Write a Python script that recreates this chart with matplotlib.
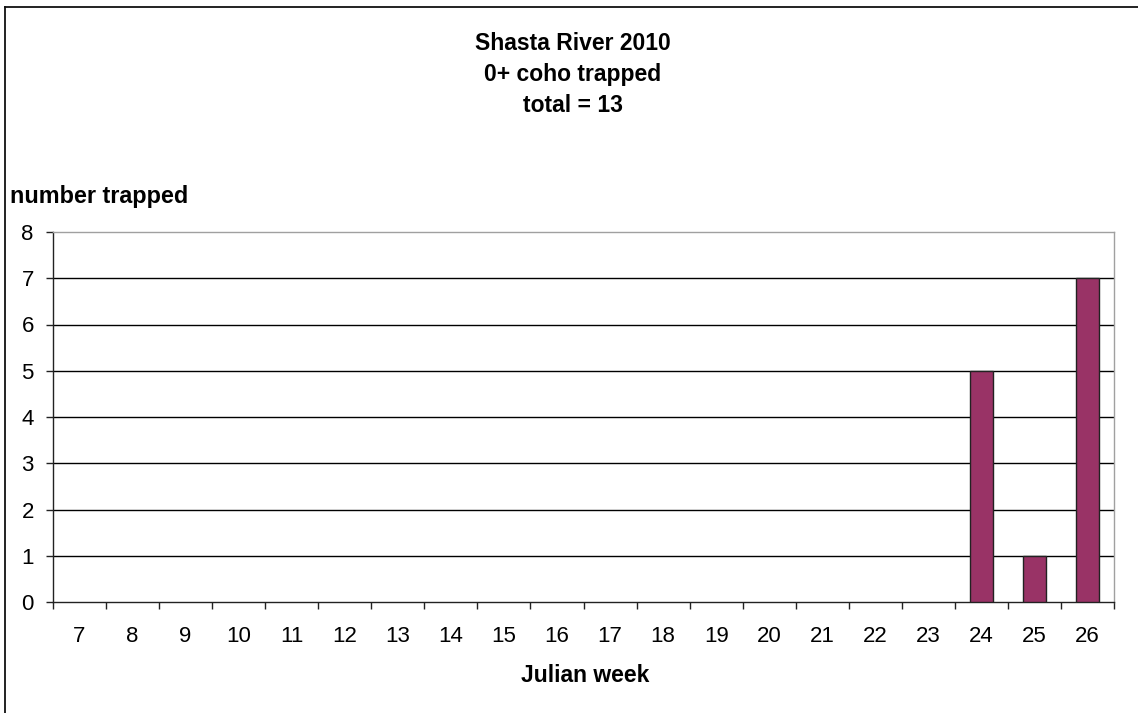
import matplotlib
matplotlib.use("Agg")
import matplotlib.pyplot as plt
from matplotlib.lines import Line2D
import numpy as np

plt.rcParams['font.family'] = ['Liberation Sans', 'DejaVu Sans']

weeks = [7, 8, 9, 10, 11, 12, 13, 14, 15, 16, 17, 18, 19, 20, 21, 22, 23, 24, 25, 26]
counts = [0, 0, 0, 0, 0, 0, 0, 0, 0, 0, 0, 0, 0, 0, 0, 0, 0, 5, 1, 7]
title_lines = ["Shasta River 2010", "0+ coho trapped", "total = 13"]
y_ticks = [0, 1, 2, 3, 4, 5, 6, 7, 8]

W, H = 1138, 713
fig = plt.figure(figsize=(W / 100, H / 100), dpi=100)
fig.patch.set_facecolor('white')

# chart frame: left and top edges visible
fig.add_artist(Line2D([4.8 / W, 4.8 / W], [0, 1 - 6.5 / H], transform=fig.transFigure,
                      color='#111111', lw=1.3))
fig.add_artist(Line2D([4.8 / W, 1], [1 - 6.5 / H, 1 - 6.5 / H], transform=fig.transFigure,
                      color='#111111', lw=1.3))

left, right, top, bottom = 53, 1114, 232, 602
ax = fig.add_axes([left / W, 1 - bottom / H, (right - left) / W, (bottom - top) / H])

x = np.arange(len(weeks))
nz = [i for i, v in enumerate(counts) if v > 0]
ax.bar(x[nz], [counts[i] for i in nz], width=0.42, color='#993366',
       edgecolor='#222222', linewidth=1.0, zorder=3)

ax.set_xlim(-0.5, len(weeks) - 0.5)
ax.set_ylim(0, 8)
ax.set_yticks(y_ticks)
ax.set_yticklabels([str(v) for v in y_ticks], fontsize=16)
ax.set_xticks(x)
ax.set_xticklabels([str(w) for w in weeks], fontsize=16)
ax.tick_params(axis='x', which='major', length=0, pad=17)
ax.set_xticks(np.arange(-0.5, len(weeks), 1.0), minor=True)
ax.tick_params(axis='x', which='minor', length=5, width=1, color='#222222', direction='out')
ax.tick_params(axis='y', length=5.3, width=1, color='#222222', direction='out', pad=8.5)

for v in y_ticks[1:-1]:
    ax.axhline(v, color='black', lw=1.0, zorder=1)

ax.spines['left'].set_color('#222222')
ax.spines['bottom'].set_color('#222222')
ax.spines['top'].set_color('#a0a0a0')
ax.spines['right'].set_color('#a0a0a0')
for s in ax.spines.values():
    s.set_linewidth(1.0)

for i, line in enumerate(title_lines):
    fig.text(573 / W, 1 - (43.5 + 31 * i) / H, line, ha='center', va='center',
             fontsize=16.5, fontweight='bold')

fig.text(10 / W, 1 - 196 / H, "number trapped", ha='left', va='center',
         fontsize=16.8, fontweight='bold')
fig.text(585 / W, 1 - 676 / H, "Julian week", ha='center', va='center',
         fontsize=16.5, fontweight='bold')

fig.savefig("out.png", dpi=100, facecolor='white')
